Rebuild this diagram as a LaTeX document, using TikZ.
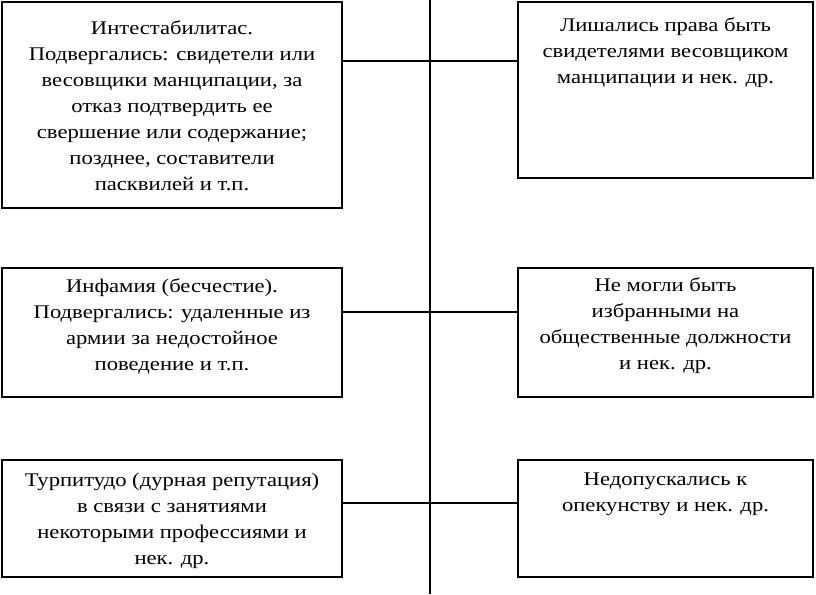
\documentclass[tikz,border=0pt]{standalone}
\usepackage{fontspec}
\setmainfont[FakeStretch=1.17]{Liberation Serif}
\begin{document}
\begin{tikzpicture}[x=0.75pt,y=-0.75pt,
  box/.style={draw=black,line width=1.5pt,rectangle,inner sep=0pt},
  txt/.style={align=center,inner sep=0pt,font=\fontsize{14.5pt}{19.5pt}\selectfont},
  conn/.style={draw=black,line width=1.5pt}]
\useasboundingbox (0,0) rectangle (816,594);
% boxes
\node[box,minimum width=255pt,minimum height=154.5pt] (b1) at (172,105) {};
\node[box,minimum width=221.25pt,minimum height=132pt] (b2) at (665.5,90) {};
\node[box,minimum width=255pt,minimum height=96.75pt] (b3) at (172,332.5) {};
\node[box,minimum width=221.25pt,minimum height=96.75pt] (b4) at (665.5,332.5) {};
\node[box,minimum width=255pt,minimum height=87.75pt] (b5) at (172,518.5) {};
\node[box,minimum width=221.25pt,minimum height=87.75pt] (b6) at (665.5,518.5) {};
% texts
\node[txt] (t1) at (172,106) {Интестабилитас.\\Подвергались: свидетели или\\весовщики манципации, за\\отказ подтвердить ее\\свершение или содержание;\\позднее, составители\\пасквилей и т.п.};
\node[txt] (t2) at (665.5,52.5) {Лишались права быть\\свидетелями весовщиком\\манципации и нек. др.};
\node[txt] (t3) at (172,326) {Инфамия (бесчестие).\\Подвергались: удаленные из\\армии за недостойное\\поведение и т.п.};
\node[txt] (t4) at (665.5,326) {Не могли быть\\избранными на\\общественные должности\\и нек. др.};
\node[txt] (t5) at (172,521) {Турпитудо (дурная репутация)\\в связи с занятиями\\некоторыми профессиями и\\нек. др.};
\node[txt] (t6) at (665.5,494) {Недопускались к\\опекунству и нек. др.};
% spine
\coordinate (top) at (430,0);
\coordinate (bot) at (430,594);
\coordinate (c1) at (430,61);
\coordinate (c2) at (430,312);
\coordinate (c3) at (430,503);
\draw[conn] (top) -- (bot);
\draw[conn] (b1.east |- c1) -- (b2.west |- c1);
\draw[conn] (b3.east |- c2) -- (b4.west |- c2);
\draw[conn] (b5.east |- c3) -- (b6.west |- c3);
\end{tikzpicture}
\end{document}
